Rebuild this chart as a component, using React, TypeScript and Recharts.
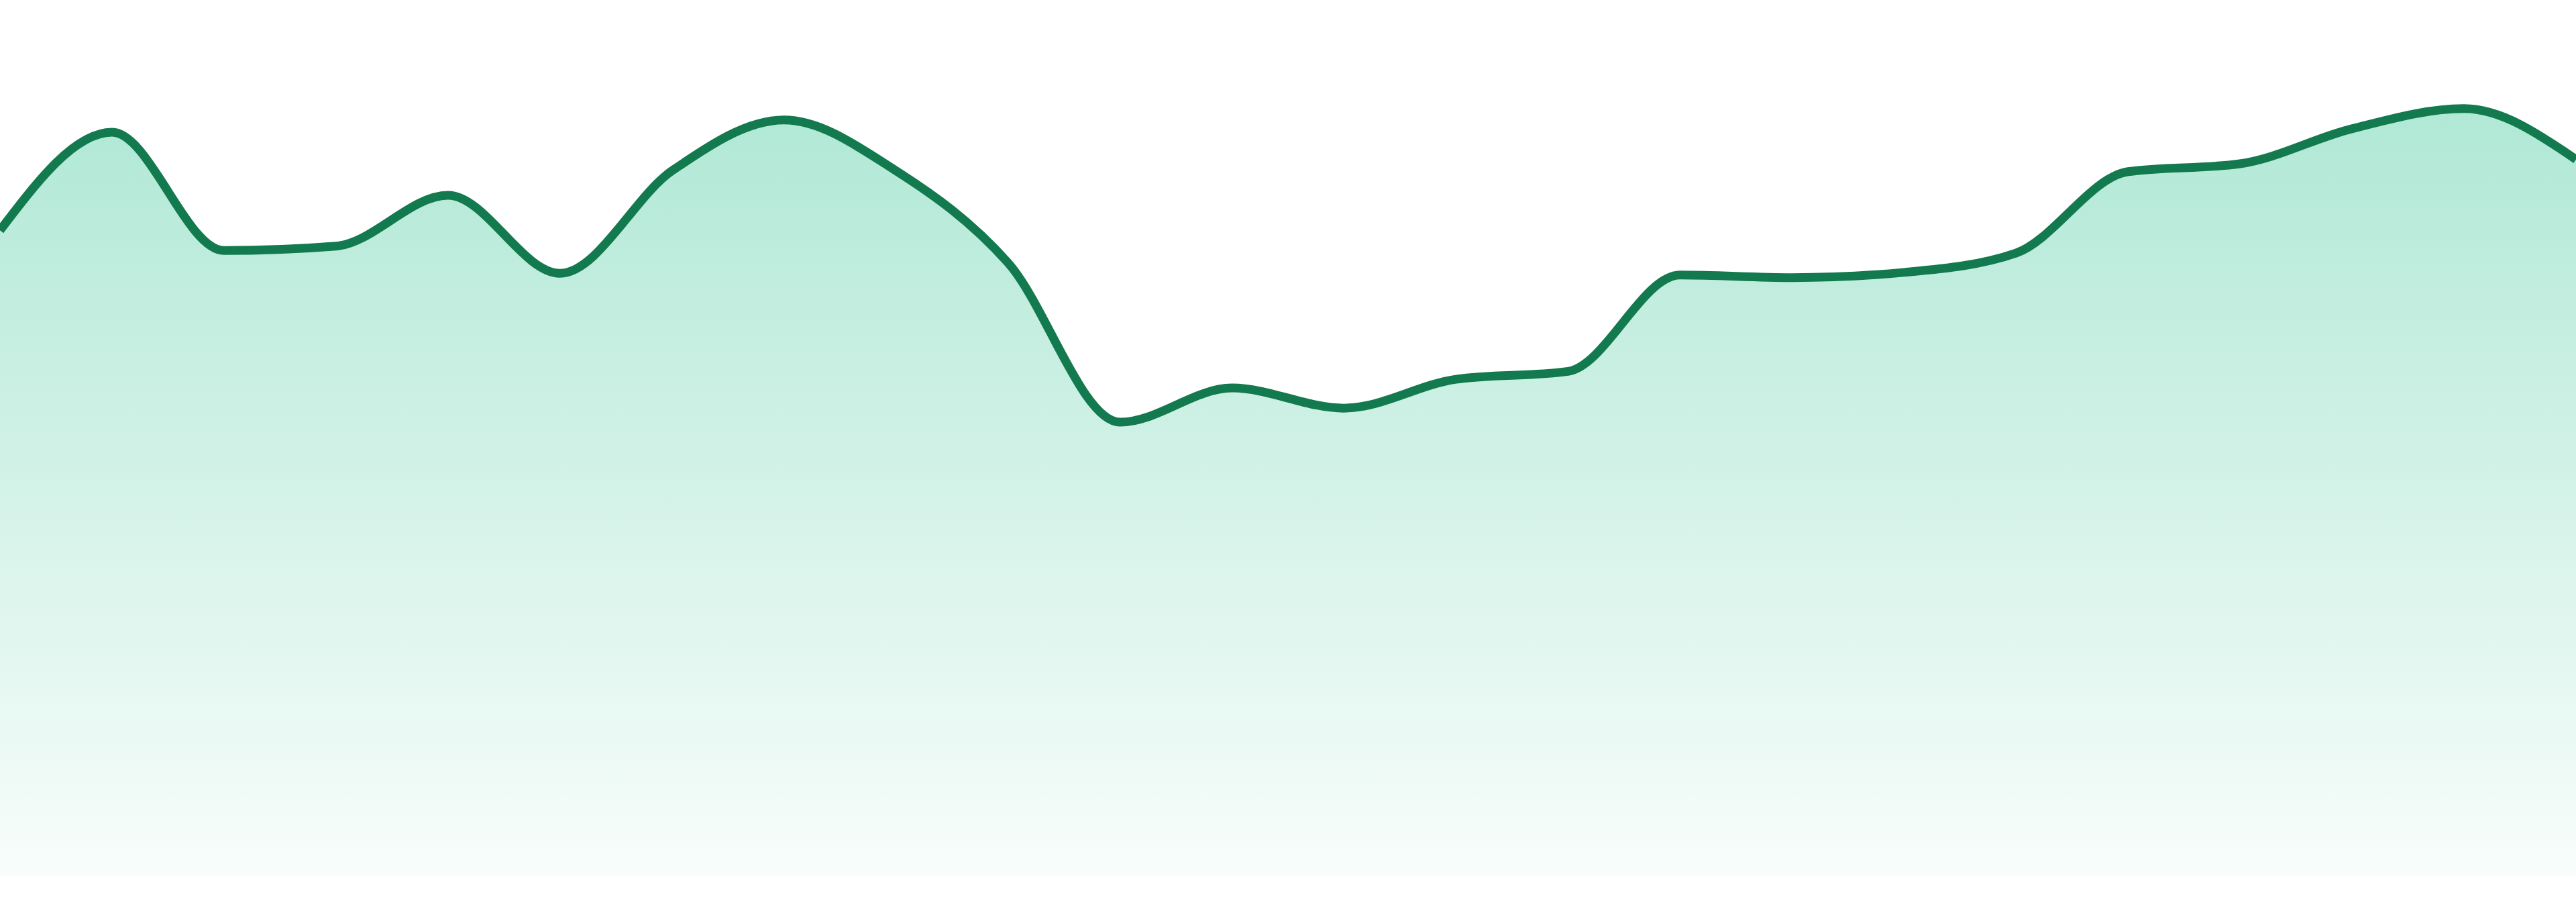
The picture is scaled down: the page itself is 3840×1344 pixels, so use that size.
import { AreaChart, Area, XAxis, YAxis } from 'recharts'

const days = [
  'D1', 'D2', 'D3', 'D4', 'D5', 'D6', 'D7', 'D8', 'D9', 'D10', 'D11', 'D12',
  'D13', 'D14', 'D15', 'D16', 'D17', 'D18', 'D19', 'D20', 'D21', 'D22', 'D23', 'D24',
]

const values = [
  73.7, 84.9, 71.4, 71.9, 77.7, 68.8, 80.5, 86.3, 80.5, 70.0, 51.8, 55.7,
  53.4, 56.7, 57.6, 68.6, 68.3, 68.9, 71.1, 80.4, 81.3, 85.3, 87.6, 81.8,
]

const yDomain = [0, 100]

const data = days.map((day, i) => ({ day, value: values[i] }))

export default function App() {
  return (
    <div style={{ position: 'absolute', left: 0, top: 0, width: 3840, height: 1344, background: '#fff' }}>
      <AreaChart width={3840} height={1305} data={data} margin={{ top: 0, right: 0, bottom: 0, left: 0 }}>
        <defs>
          <linearGradient id="fillGreen" x1="0" y1="0" x2="0" y2="1">
            <stop offset="0%" stopColor="#10b981" stopOpacity={0.33} />
            <stop offset="100%" stopColor="#10b981" stopOpacity={0.03} />
          </linearGradient>
        </defs>
        <XAxis dataKey="day" hide />
        <YAxis hide domain={yDomain} />
        <Area
          type="monotone"
          dataKey="value"
          stroke="#137a4f"
          strokeWidth={13}
          fill="url(#fillGreen)"
          fillOpacity={1}
          dot={false}
          activeDot={false}
          isAnimationActive={false}
        />
      </AreaChart>
    </div>
  )
}
